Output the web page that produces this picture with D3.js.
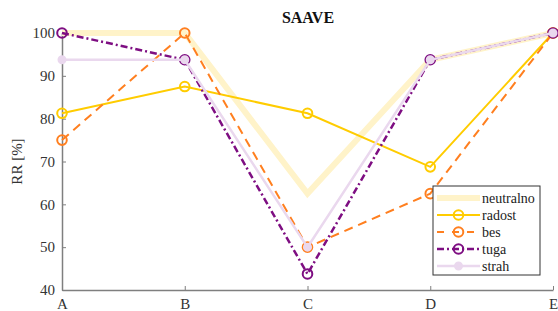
<!DOCTYPE html>
<html>
<head>
<meta charset="utf-8">
<script src="https://cdn.jsdelivr.net/npm/d3@7"></script>
<style>
body { margin: 0; background: #fff; }
</style>
</head>
<body>
<div id="chart"></div>
<script>
var categories = ["A", "B", "C", "D", "E"];
var yTicks = [40, 50, 60, 70, 80, 90, 100];
var neutralno = [100, 100, 62.5, 93.75, 100];
var radost = [81.25, 87.5, 81.25, 68.75, 100];
var bes = [75, 100, 50, 62.5, 100];
var tuga = [100, 93.75, 43.75, 93.75, 100];
var strah = [93.75, 93.75, 50, 93.75, 100];

var seriesNames = ["neutralno", "radost", "bes", "tuga", "strah"];
var seriesValues = [neutralno, radost, bes, tuga, strah];

var styles = {
    neutralno: {color: "#fff3c9", width: 6, dash: null, marker: "none"},
    radost: {color: "#ffcc00", width: 2, dash: null, marker: "open"},
    bes: {color: "#ff7f1f", width: 2, dash: "9,6", marker: "open"},
    tuga: {color: "#7e0e82", width: 2.5, dash: "7,3,2,3", marker: "open"},
    strah: {color: "#ead8ee", width: 2.5, dash: null, marker: "filled"}
};

var serif = "'Liberation Serif', serif";

var margin = {top: 33, right: 5, bottom: 21, left: 62},
    width = 558 - margin.left - margin.right,
    height = 311 - margin.top - margin.bottom;

var svg = d3.select("#chart").append("svg")
    .attr("width", 558)
    .attr("height", 311)
    .style("font-family", serif);

var g = svg.append("g")
    .attr("transform", "translate(" + margin.left + "," + margin.top + ")");

var x = d3.scalePoint()
    .domain(categories)
    .range([0, width]);

var y = d3.scaleLinear()
    .domain([40, 100])
    .range([height, 0]);

// axes, ticks inward like the source
var xAxis = g.append("g")
    .attr("transform", "translate(0," + height + ")")
    .call(d3.axisBottom(x).tickSizeInner(-4).tickSizeOuter(0).tickPadding(8));
var yAxis = g.append("g")
    .call(d3.axisLeft(y).tickValues(yTicks).tickSizeInner(-4).tickSizeOuter(0).tickPadding(7));

[xAxis, yAxis].forEach(function(a) {
    a.attr("font-family", null).attr("font-size", 15);
    a.select(".domain").attr("stroke", "#7f7f7f").attr("stroke-width", 1.5);
    a.selectAll(".tick line").attr("stroke", "#7f7f7f").attr("stroke-width", 1);
    a.selectAll("text").attr("fill", "#333");
});

var line = d3.line()
    .x(function(d, i) { return x(categories[i]); })
    .y(function(d) { return y(d); });

seriesNames.forEach(function(name, k) {
    var s = styles[name];
    var vals = seriesValues[k];
    g.append("path")
        .datum(vals)
        .attr("d", line)
        .attr("fill", "none")
        .attr("stroke", s.color)
        .attr("stroke-width", s.width)
        .attr("stroke-dasharray", s.dash);
    if (s.marker != "none") {
        g.selectAll(".m-" + name)
            .data(vals)
            .enter().append("circle")
            .attr("class", "m-" + name)
            .attr("cx", function(d, i) { return x(categories[i]); })
            .attr("cy", function(d) { return y(d); })
            .attr("r", s.marker == "filled" ? 3.5 : 4.8)
            .attr("fill", s.marker == "filled" ? s.color : "none")
            .attr("stroke", s.color)
            .attr("stroke-width", 2);
    }
});

// title
svg.append("text")
    .attr("x", 308)
    .attr("y", 23)
    .attr("text-anchor", "middle")
    .style("font-size", "16px")
    .style("font-weight", "bold")
    .attr("fill", "#111")
    .text("SAAVE");

// y label
svg.append("text")
    .attr("transform", "translate(22," + (margin.top + height / 2) + ") rotate(-90)")
    .attr("text-anchor", "middle")
    .style("font-size", "15px")
    .attr("fill", "#333")
    .text("RR [%]");

// legend
var legend = svg.append("g").attr("transform", "translate(433,186)");
legend.append("rect")
    .attr("width", 107)
    .attr("height", 89)
    .attr("fill", "#fff")
    .attr("stroke", "#333")
    .attr("stroke-width", 1);

seriesNames.forEach(function(name, k) {
    var s = styles[name];
    var ly = 12 + k * 17;
    legend.append("line")
        .attr("x1", 4).attr("x2", 47)
        .attr("y1", ly).attr("y2", ly)
        .attr("stroke", s.color)
        .attr("stroke-width", s.width)
        .attr("stroke-dasharray", s.dash == null ? null : (name == "bes" ? "7,8" : s.dash));
    if (s.marker != "none") {
        legend.append("circle")
            .attr("cx", 25.5).attr("cy", ly)
            .attr("r", s.marker == "filled" ? 3.5 : 4.8)
            .attr("fill", s.marker == "filled" ? s.color : "none")
            .attr("stroke", s.color)
            .attr("stroke-width", 2);
    }
    legend.append("text")
        .attr("x", 49)
        .attr("y", ly + 4.5)
        .style("font-size", "14px")
        .attr("fill", "#222")
        .text(name);
});
</script>
</body>
</html>
